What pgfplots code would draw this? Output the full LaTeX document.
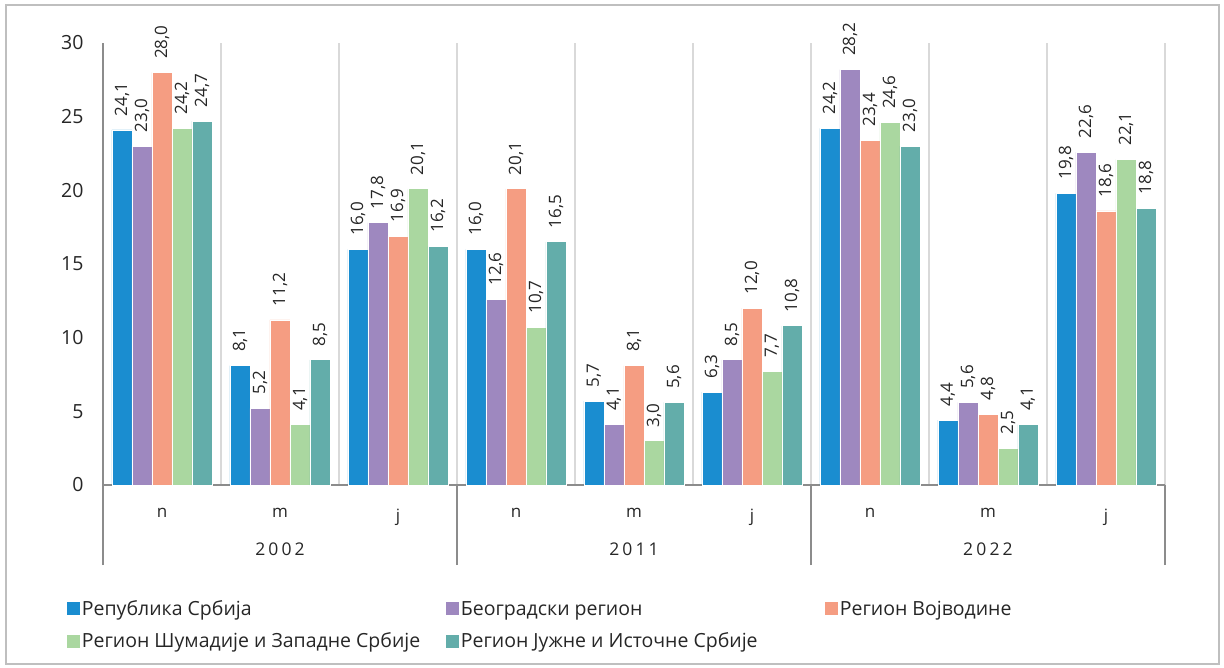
\documentclass[border=0pt]{standalone}
\usepackage{pgfplots}
\pgfplotsset{compat=1.18}
\usepackage{pgfplotstable}
\usepackage{graphicx}
\usepackage{fontspec}
\setmainfont{Open Sans}
\newfontfamily\spaced[LetterSpace=18]{Open Sans}

\definecolor{cA}{HTML}{1A8DD0}
\definecolor{cB}{HTML}{9E88BF}
\definecolor{cC}{HTML}{F59D82}
\definecolor{cD}{HTML}{AAD7A0}
\definecolor{cE}{HTML}{63ADAA}
\definecolor{txt}{HTML}{262626}

\pgfplotstableread{
x y
0 24.1
1 8.1
2 16.0
3 16.0
4 5.7
5 6.3
6 24.2
7 4.4
8 19.8
}\tA
\pgfplotstableread{
x y
0 23.0
1 5.2
2 17.8
3 12.6
4 4.1
5 8.5
6 28.2
7 5.6
8 22.6
}\tB
\pgfplotstableread{
x y
0 28.0
1 11.2
2 16.9
3 20.1
4 8.1
5 12.0
6 23.4
7 4.8
8 18.6
}\tC
\pgfplotstableread{
x y
0 24.2
1 4.1
2 20.1
3 10.7
4 3.0
5 7.7
6 24.6
7 2.5
8 22.1
}\tD
\pgfplotstableread{
x y
0 24.7
1 8.5
2 16.2
3 16.5
4 5.6
5 10.8
6 23.0
7 4.1
8 18.8
}\tE

\begin{document}
\begin{tikzpicture}
\useasboundingbox (0,0) rectangle (1224pt,667pt);
\draw[draw=black!25, line width=1.5pt] (6pt,3pt) rectangle (1219pt,662pt);
\begin{axis}[
  at={(103pt,182pt)}, anchor=south west,
  scale only axis, width=1062pt, height=442pt,
  clip=false,
  ybar=0pt, bar width=20pt,
  xmin=-0.5, xmax=8.5, ymin=0, ymax=30,
  axis lines*=left,
  axis line style={draw=black!45, line width=1.2pt},
  xtick={0,...,8},
  xticklabels={n,m,j,n,m,j,n,m,j},
  minor xtick={-0.5,0.5,...,8.5},
  xminorgrids=true,
  minor grid style={draw=black!15, line width=1.2pt},
  ytick={0,5,...,30},
  tick align=outside,
  major tick length=0pt, minor tick length=0pt,
  extra x ticks={-0.5,2.5,5.5,8.5},
  extra x tick labels={},
  extra x tick style={major tick length=80pt, tick style={draw=black!45, line width=1.2pt}, grid=none},
  /pgf/number format/assume math mode=true,
  ticklabel style={text=txt},
  xticklabel style={yshift=-20pt, font=\fontsize{17}{20}\selectfont},
  yticklabel style={xshift=-16pt, font=\fontsize{19.5}{23}\selectfont},
  nodes near coords={\rotatebox{90}{\hspace*{10pt}\pgfmathprintnumber[fixed,fixed zerofill,precision=1,use comma]{\pgfplotspointmeta}}},
  every node near coord/.append style={anchor=south, text=txt, font=\fontsize{17}{20}\selectfont},
  every axis plot/.append style={draw=white, line width=0.8pt},
  legend style={draw=none, fill=none, at={(-0.037,-0.252)}, anchor=north west,
    legend columns=3, font=\fontsize{19.5}{23}\selectfont, text=txt,
    row sep=12pt},
  legend cell align=left,
  legend image code/.code={\fill[#1,draw=none] (0pt,-6.5pt) rectangle (13pt,6.5pt);},
]
\addplot[fill=cA] table[x=x,y=y]{\tA};
\addlegendentry{\makebox[362pt][l]{Република Србија}}
\addplot[fill=cB] table[x=x,y=y]{\tB};
\addlegendentry{\makebox[362pt][l]{Београдски регион}}
\addplot[fill=cC] table[x=x,y=y]{\tC};
\addlegendentry{\makebox[362pt][l]{Регион Војводине}}
\addplot[fill=cD] table[x=x,y=y]{\tD};
\addlegendentry{\makebox[362pt][l]{Регион Шумадије и Западне Србије}}
\addplot[fill=cE] table[x=x,y=y]{\tE};
\addlegendentry{\makebox[362pt][l]{Регион Јужне и Источне Србије}}
\node[text=txt, font=\spaced\fontsize{17.5}{20}\selectfont] at (axis cs:1,0) [yshift=-64pt] {2002};
\node[text=txt, font=\spaced\fontsize{17.5}{20}\selectfont] at (axis cs:4,0) [yshift=-64pt] {2011};
\node[text=txt, font=\spaced\fontsize{17.5}{20}\selectfont] at (axis cs:7,0) [yshift=-64pt] {2022};
\end{axis}
\end{tikzpicture}
\end{document}
